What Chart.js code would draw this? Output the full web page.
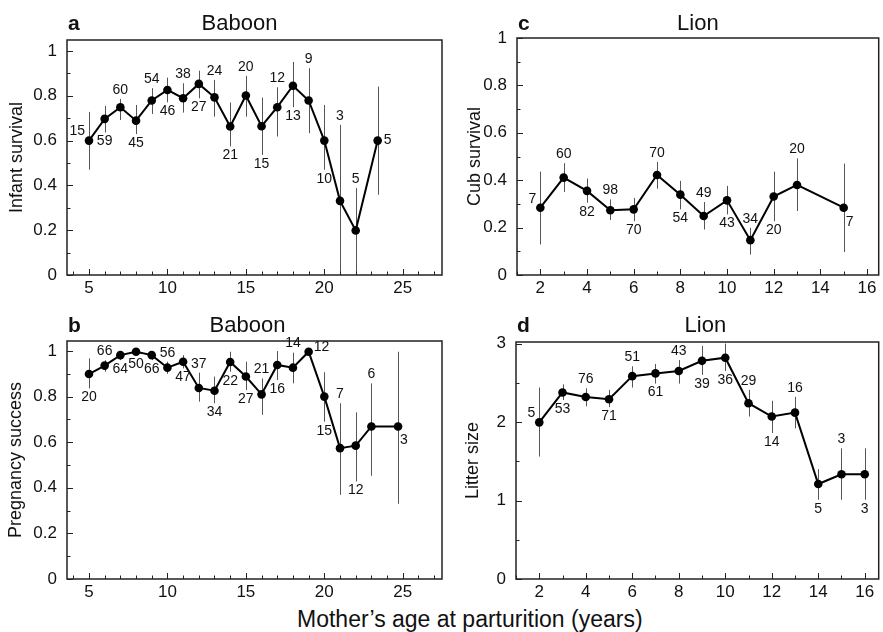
<!DOCTYPE html>
<html>
<head>
<meta charset="utf-8">
<script src="https://cdn.jsdelivr.net/npm/chart.js@4.4.1/dist/chart.umd.min.js"></script>
<style>
  body { margin: 0; background: #fff; width: 883px; height: 632px; position: relative; overflow: hidden;
         font-family: "Liberation Sans", Arial, Helvetica, sans-serif; }
  canvas { position: absolute; }
  #xlabel { position: absolute; left: 297px; top: 608px; font-size: 23px; line-height: 23px; color: #111; white-space: nowrap; }
</style>
</head>
<body>
<canvas id="panelA" width="450" height="300" style="left:0;top:0"></canvas>
<canvas id="panelB" width="450" height="304" style="left:0;top:300px"></canvas>
<canvas id="panelC" width="443" height="300" style="left:440px;top:0"></canvas>
<canvas id="panelD" width="443" height="304" style="left:440px;top:300px"></canvas>
<div id="xlabel">Mother’s age at parturition (years)</div>
<script>
// a: baboon infant survival
const babSurvAge = [5, 6, 7, 8, 9, 10, 11, 12, 13, 14, 15, 16, 17, 18, 19, 20, 21, 22, 23.4];
const babSurv    = [0.60, 0.697, 0.749, 0.689, 0.779, 0.826, 0.789, 0.853, 0.793, 0.663, 0.801, 0.664, 0.749, 0.845, 0.779, 0.60, 0.331, 0.199, 0.60];
const babSurvLo  = [0.47, 0.636, 0.692, 0.629, 0.719, 0.771, 0.725, 0.789, 0.707, 0.574, 0.707, 0.536, 0.618, 0.749, 0.633, 0.47, 0, 0, 0.358];
const babSurvHi  = [0.728, 0.755, 0.786, 0.759, 0.834, 0.881, 0.856, 0.912, 0.871, 0.770, 0.889, 0.792, 0.838, 0.951, 0.923, 0.759, 0.67, 0.388, 0.841];
const babSurvN   = ["15", "59", "60", "45", "54", "46", "38", "27", "24", "21", "20", "15", "12", "13", "9", "10", "3", "5", "5"];
const babSurvPos = ["l", "d", "u", "d", "u", "d", "u", "d", "u", "d", "u", "d", "u", "d", "u", "d", "u", "u", "r"];

// b: baboon pregnancy success
const babPregAge = [5, 6, 7, 8, 9, 10, 11, 12, 13, 14, 15, 16, 17, 18, 19, 20, 21, 22, 23, 24.7];
const babPreg    = [0.899, 0.936, 0.982, 0.997, 0.982, 0.927, 0.953, 0.838, 0.826, 0.952, 0.888, 0.81, 0.939, 0.927, 0.997, 0.80, 0.574, 0.585, 0.669, 0.669];
const babPregLo  = [0.836, 0.909, 0.96, 0.98, 0.96, 0.90, 0.924, 0.778, 0.771, 0.909, 0.829, 0.72, 0.873, 0.858, 0.98, 0.69, 0.369, 0.428, 0.453, 0.33];
const babPregHi  = [0.968, 0.96, 1.0, 1.0, 1.0, 0.953, 0.982, 0.905, 0.888, 0.997, 0.953, 0.88, 1.0, 0.993, 1.0, 0.907, 0.771, 0.731, 0.858, 0.997];
const babPregN   = ["20", "66", "64", "50", "66", "56", "47", "37", "34", "22", "27", "21", "16", "14", "12", "15", "7", "12", "6", "3"];
const babPregPos = ["d", "u", "d", "d", "d", "u", "d", "u", "d", "d", "d", "u", "d", "u", "ur", "d", "u", "d", "u", "dr"];

// c: lion cub survival
const lionCubAge = [2, 3, 4, 5, 6, 7, 8, 9, 10, 11, 12, 13, 15];
const lionCub    = [0.284, 0.411, 0.355, 0.273, 0.277, 0.422, 0.339, 0.249, 0.315, 0.147, 0.331, 0.38, 0.284];
const lionCubLo  = [0.129, 0.350, 0.305, 0.232, 0.227, 0.364, 0.277, 0.192, 0.256, 0.086, 0.227, 0.27, 0.097];
const lionCubHi  = [0.436, 0.472, 0.407, 0.319, 0.325, 0.477, 0.397, 0.308, 0.376, 0.199, 0.436, 0.492, 0.47];
const lionCubN   = ["7", "60", "82", "98", "70", "70", "54", "49", "43", "34", "20", "20", "7"];
const lionCubPos = ["l", "u", "d", "u", "d", "u", "d", "u", "d", "u", "d", "u", "dr"];

// d: lion litter size
const lionLitAge = [2, 3, 4, 5, 6, 7, 8, 9, 10, 11, 12, 13, 14, 15, 16];
const lionLit    = [1.996, 2.377, 2.32, 2.29, 2.585, 2.62, 2.65, 2.78, 2.82, 2.24, 2.07, 2.12, 1.21, 1.335, 1.335];
const lionLitLo  = [1.56, 2.28, 2.20, 2.19, 2.44, 2.49, 2.49, 2.60, 2.65, 2.07, 1.86, 1.92, 1.01, 1.01, 1.01];
const lionLitHi  = [2.44, 2.48, 2.43, 2.41, 2.71, 2.74, 2.79, 2.97, 3.0, 2.41, 2.27, 2.32, 1.40, 1.665, 1.665];
const lionLitN   = ["5", "53", "76", "71", "51", "61", "43", "39", "36", "29", "14", "16", "5", "3", "3"];
const lionLitPos = ["l", "d", "u", "d", "u", "d", "u", "d", "d", "u", "d", "u", "d", "u", "d"];

// tick labels
const babXTicks = [5, 10, 15, 20, 25];
const lionXTicks = [2, 4, 6, 8, 10, 12, 14, 16];
const probYTicks = [0, 0.2, 0.4, 0.6, 0.8, 1];
const litYTicks = [0, 1, 2, 3];

const FONT = '"Liberation Sans", Arial, Helvetica, sans-serif';
const INK = '#111';

const decor = {
  id: 'decor',
  beforeDatasetsDraw(chart) {
    const { ctx, scales: { x, y } } = chart;
    const ds = chart.data.datasets[0];
    ctx.save();
    ctx.strokeStyle = '#555';
    ctx.lineWidth = 1;
    ds.data.forEach((p, i) => {
      const px = Math.round(x.getPixelForValue(p.x)) + 0.5;
      ctx.beginPath();
      ctx.moveTo(px, y.getPixelForValue(ds.errLo[i]));
      ctx.lineTo(px, y.getPixelForValue(ds.errHi[i]));
      ctx.stroke();
    });
    ctx.restore();
  },
  afterDraw(chart, args, opts) {
    const { ctx, chartArea: a, scales: { x, y } } = chart;
    const ds = chart.data.datasets[0];
    ctx.save();

    // frame
    ctx.strokeStyle = '#222';
    ctx.lineWidth = 1.5;
    ctx.strokeRect(a.left, a.top, a.right - a.left, a.bottom - a.top);

    // inward ticks, major and minor
    ctx.lineWidth = 1;
    const tick = (v, len, horiz) => {
      ctx.beginPath();
      if (horiz) {
        const px = Math.round(x.getPixelForValue(v)) + 0.5;
        ctx.moveTo(px, a.bottom); ctx.lineTo(px, a.bottom - len);
      } else {
        const py = Math.round(y.getPixelForValue(v)) + 0.5;
        ctx.moveTo(a.left, py); ctx.lineTo(a.left + len, py);
      }
      ctx.stroke();
    };
    for (let v = Math.ceil(x.min); v <= x.max; v += 1) tick(v, 3.5, true);
    x.ticks.forEach(t => tick(t.value, 6, true));
    for (let k = 0; k * opts.yMinor <= y.max; k++) tick(k * opts.yMinor, 3.5, false);
    y.ticks.forEach(t => tick(t.value, 6, false));

    // sample sizes
    ctx.fillStyle = INK;
    ctx.font = '14px ' + FONT;
    ctx.textBaseline = 'middle';
    ds.data.forEach((p, i) => {
      const px = x.getPixelForValue(p.x);
      const py = y.getPixelForValue(p.y);
      const pos = ds.place[i];
      let tx = px, ty = py;
      ctx.textAlign = 'center';
      if (pos === 'u') ty = y.getPixelForValue(ds.errHi[i]) - 9;
      else if (pos === 'd') ty = y.getPixelForValue(ds.errLo[i]) + 9;
      else if (pos === 'l') { ctx.textAlign = 'right'; tx = px - 4; ty = py - 9; }
      else if (pos === 'r') { ctx.textAlign = 'left'; tx = px + 6; }
      else if (pos === 'ur') { ctx.textAlign = 'left'; tx = px + 5; ty = py - 5; }
      else if (pos === 'dr') { ctx.textAlign = 'left'; tx = px + 2; ty = py + 14; }
      ctx.fillText(ds.counts[i], tx, ty);
    });

    // panel letter and title
    ctx.textBaseline = 'alphabetic';
    ctx.textAlign = 'left';
    ctx.font = 'bold 21px ' + FONT;
    ctx.fillText(opts.letter, a.left + 1, opts.titleBase);
    ctx.textAlign = 'center';
    ctx.font = '22px ' + FONT;
    ctx.fillText(opts.title, (a.left + a.right) / 2 + opts.titleShift, opts.titleBase);
    ctx.restore();
  }
};

function panel(id, c) {
  return new Chart(document.getElementById(id), {
    type: 'line',
    data: {
      datasets: [{
        data: c.x.map((v, i) => ({ x: v, y: c.y[i] })),
        errLo: c.lo, errHi: c.hi, counts: c.n, place: c.pos,
        borderColor: '#000', borderWidth: 2, tension: 0,
        pointRadius: 4.3, pointBackgroundColor: '#000', pointBorderWidth: 0
      }]
    },
    options: {
      responsive: false, animation: false, devicePixelRatio: 1,
      layout: { padding: { top: c.padTop, right: c.padRight, left: 0, bottom: 0 } },
      plugins: {
        legend: { display: false }, tooltip: { enabled: false },
        decor: { letter: c.letter, title: c.title, titleShift: c.titleShift, titleBase: c.titleBase, yMinor: c.yMinor }
      },
      scales: {
        x: {
          type: 'linear', min: c.xMin, max: c.xMax,
          afterBuildTicks: s => { s.ticks = c.xTicks.map(v => ({ value: v })); },
          afterFit: s => { s.height = 25; },
          grid: { display: false, drawTicks: false }, border: { display: false },
          ticks: { font: { family: FONT, size: 17 }, color: INK, padding: 3, maxRotation: 0, autoSkip: false, callback: v => String(v) }
        },
        y: {
          type: 'linear', min: 0, max: c.yMax,
          afterBuildTicks: s => { s.ticks = c.yTicks.map(v => ({ value: v })); },
          afterFit: s => { s.width = c.yWidth; },
          grid: { display: false, drawTicks: false }, border: { display: false },
          ticks: { font: { family: FONT, size: 17 }, color: INK, padding: 10, autoSkip: false, callback: v => String(v) },
          title: { display: true, text: c.yTitle, color: INK, font: { family: FONT, size: 18 }, padding: { top: c.yTitlePad, bottom: 0 } }
        }
      }
    },
    plugins: [decor]
  });
}

panel('panelA', {
  x: babSurvAge, y: babSurv, lo: babSurvLo, hi: babSurvHi, n: babSurvN, pos: babSurvPos,
  xMin: 3.6, xMax: 27.5, xTicks: babXTicks, yMax: 1.049, yTicks: probYTicks, yMinor: 0.1,
  yTitle: 'Infant survival', yWidth: 67, yTitlePad: 6, padTop: 40, padRight: 8,
  letter: 'a', title: 'Baboon', titleShift: -15, titleBase: 30
});
panel('panelB', {
  x: babPregAge, y: babPreg, lo: babPregLo, hi: babPregHi, n: babPregN, pos: babPregPos,
  xMin: 3.6, xMax: 27.5, xTicks: babXTicks, yMax: 1.044, yTicks: probYTicks, yMinor: 0.1,
  yTitle: 'Pregnancy success', yWidth: 67, yTitlePad: 5, padTop: 41, padRight: 8,
  letter: 'b', title: 'Baboon', titleShift: -7, titleBase: 32
});
panel('panelC', {
  x: lionCubAge, y: lionCub, lo: lionCubLo, hi: lionCubHi, n: lionCubN, pos: lionCubPos,
  xMin: 1, xMax: 16.5, xTicks: lionXTicks, yMax: 1, yTicks: probYTicks, yMinor: 0.1,
  yTitle: 'Cub survival', yWidth: 77, yTitlePad: 24, padTop: 38, padRight: 2,
  letter: 'c', title: 'Lion', titleShift: 0, titleBase: 30
});
panel('panelD', {
  x: lionLitAge, y: lionLit, lo: lionLitLo, hi: lionLitHi, n: lionLitN, pos: lionLitPos,
  xMin: 1, xMax: 16.6, xTicks: lionXTicks, yMax: 3.02, yTicks: litYTicks, yMinor: 0.5,
  yTitle: 'Litter size', yWidth: 76, yTitlePad: 22, padTop: 42, padRight: 3,
  letter: 'd', title: 'Lion', titleShift: 8, titleBase: 32
});
</script>
</body>
</html>
